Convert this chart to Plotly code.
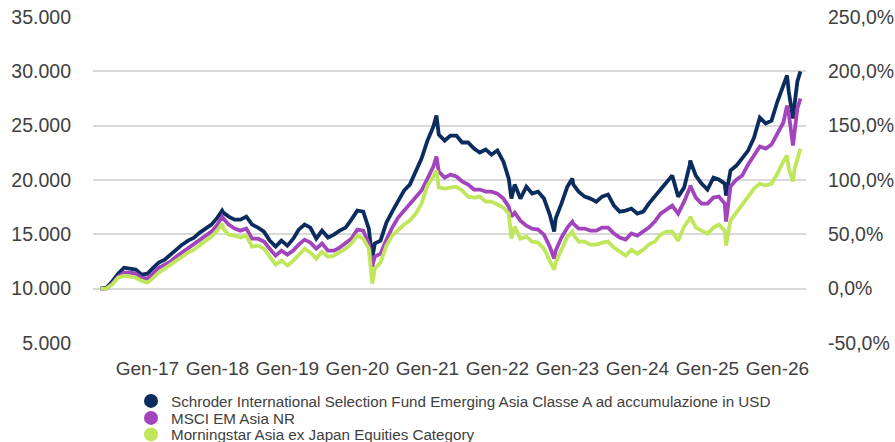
import pandas as pd
import plotly.graph_objects as go

# ---------------- data ----------------
series_names = [
    "Schroder International Selection Fund Emerging Asia Classe A ad accumulazione in USD",
    "MSCI EM Asia NR",
    "Morningstar Asia ex Japan Equities Category",
]

first_month = "2016-05-01"   # monthly observations, first day of each month

fund_monthly = [
    10000, 10090, 10645, 11380, 11930, 11840, 11750, 11290, 11380, 11930,
    12400, 12670, 13130, 13680, 14050, 14420, 14700, 15160, 15530, 15890,
    16540, 17000, 16630, 16350, 16350, 16630, 15900, 15620, 15250, 14420,
    13870, 14420, 13960, 14600, 15430, 15900, 15620, 14600, 15340, 14700,
    14970, 15340, 15620, 16350, 17180, 17090, 15530, 14150, 14420, 16080,
    17090, 18100, 19030, 19580, 20870, 21970, 23630, 24920, 24180, 23630,
    24090, 24090, 23450, 23450, 22890, 22530, 22800, 22340, 22710, 21700,
    20130, 19580, 18290, 19390, 18750, 18930, 18290, 16820, 16450, 17830,
    19390, 19580, 18930, 18470, 18290, 18010, 18470, 18660, 17640, 17090,
    17180, 17370, 16910, 17090, 17830, 18470, 19030, 19760, 20410, 18470,
    19300, 21420, 20410, 19670, 19120, 20220, 20040, 19670, 20870, 21330,
    21970, 22710, 23910, 25750, 25200, 25470, 27220, 28790, 28140, 27040,
    30000,
]

bench_monthly = [
    10000, 10000, 10460, 11100, 11470, 11470, 11380, 11010, 10920, 11470,
    11930, 12210, 12490, 12950, 13320, 13680, 14050, 14510, 14880, 15250,
    15890, 16450, 15890, 15530, 15340, 15530, 14600, 14600, 14330, 13680,
    13040, 13500, 13130, 13500, 14050, 14510, 14240, 13680, 14150, 13500,
    13500, 13780, 14150, 14600, 15430, 15340, 14150, 12950, 13220, 14510,
    15620, 16540, 17180, 17740, 18380, 19030, 20130, 21240, 20780, 20220,
    20500, 20320, 19860, 19580, 19120, 19120, 18930, 18930, 18750, 18290,
    17550, 17000, 16260, 15800, 15530, 15440, 14970, 13870, 13500, 14700,
    15620, 15990, 15530, 15530, 15340, 15340, 15620, 15620, 15070, 14700,
    14510, 15070, 14880, 15250, 15620, 16170, 16910, 17280, 17640, 16910,
    18010, 19300, 18380, 17830, 17830, 18380, 18470, 17830, 19390, 20040,
    20410, 21420, 22340, 23080, 22890, 23260, 24280, 25290, 26120, 24280,
    27500,
]

cat_monthly = [
    10000, 10000, 10370, 11010, 11200, 11100, 11010, 10740, 10550, 11010,
    11470, 11840, 12210, 12670, 13040, 13320, 13590, 14050, 14420, 14790,
    15340, 15530, 14970, 14880, 14700, 14880, 13870, 13960, 13680, 12950,
    12210, 12580, 12120, 12580, 13130, 13680, 13320, 12760, 13410, 12950,
    13040, 13320, 13680, 14150, 14880, 14610, 13680, 11840, 12400, 13960,
    14880, 15430, 15900, 16260, 16910, 17830, 19490, 20310, 19300, 19210,
    19300, 19390, 19030, 18470, 18380, 18470, 18010, 18010, 17740, 17460,
    16910, 15710, 14610, 14790, 14330, 14240, 13680, 12580, 12400, 13590,
    14790, 14970, 14330, 14330, 14050, 14050, 14240, 14330, 13780, 13410,
    13040, 13590, 13220, 13590, 14050, 14330, 14970, 15250, 15250, 14420,
    15710, 16450, 15620, 15340, 15070, 15620, 15900, 15340, 16260, 17000,
    17640, 18380, 19210, 19670, 19490, 19670, 20590, 21700, 21050, 21050,
    22890,
]

# peaks and troughs between month starts
extra_dates = ["2018-01-26", "2020-03-19", "2021-02-17", "2022-03-15", "2022-10-24",
               "2023-01-27", "2024-10-03", "2025-04-08", "2026-02-20", "2026-03-23",
               "2026-04-15"]
fund_extra = [17180, 12760, 25930, 18290, 15250, 20130, 21790, 18560, 29620, 25660, 29070]
bench_extra = [16630, 12030, 22160, 16630, 12760, 16170, 19490, 16170, 26850, 23170, 26580]
cat_extra = [15990, 10460, 20870, 14610, 11750, 15250, 16630, 13960, 22250, 19860, 21970]

x_tick_dates = ["2017-01-01", "2018-01-01", "2019-01-01", "2020-01-01", "2021-01-01",
                "2022-01-01", "2023-01-01", "2024-01-01", "2025-01-01", "2026-01-01"]
x_tick_labels = ["Gen-17", "Gen-18", "Gen-19", "Gen-20", "Gen-21",
                 "Gen-22", "Gen-23", "Gen-24", "Gen-25", "Gen-26"]

left_ticks = [5000, 10000, 15000, 20000, 25000, 30000, 35000]
left_labels = ["5.000", "10.000", "15.000", "20.000", "25.000", "30.000", "35.000"]
right_ticks = [-50, 0, 50, 100, 150, 200, 250]
right_labels = ["-50,0%", "0,0%", "50,0%", "100,0%", "150,0%", "200,0%", "250,0%"]

colors = ["#0b2c5e", "#a245bd", "#c0e65b"]

# ---------------- build table ----------------
months = pd.date_range(first_month, periods=len(fund_monthly), freq="MS")
df = pd.DataFrame({
    "date": list(months) + list(pd.to_datetime(extra_dates)),
    "fund": fund_monthly + fund_extra,
    "bench": bench_monthly + bench_extra,
    "cat": cat_monthly + cat_extra,
}).sort_values("date")

FONT = "Liberation Sans, Arial, sans-serif"
TXT = "#404040"
fig = go.Figure()

for col, name, color in zip(["fund", "bench", "cat"], series_names, colors):
    fig.add_trace(go.Scatter(
        x=df["date"], y=df[col], mode="lines", name=name,
        line=dict(color=color, width=3.8), showlegend=False, hoverinfo="skip",
    ))

# legend entries (round markers), one legend per row to control spacing
legend_ids = ["legend", "legend2", "legend3"]
for name, color, lg in zip(series_names, colors, legend_ids):
    fig.add_trace(go.Scatter(
        x=[None], y=[None], mode="markers", name=name, legend=lg,
        marker=dict(color=color, size=14, symbol="circle"), showlegend=True,
    ))

# dummy trace to activate the right axis
fig.add_trace(go.Scatter(x=[None], y=[None], yaxis="y2", showlegend=False, hoverinfo="skip"))

legend_rows_px = [401, 418, 434.5]
legend_common = dict(
    orientation="v", xref="container", x=131 / 895, xanchor="left",
    yref="container", yanchor="middle",
    font=dict(size=15.2, color=TXT, family=FONT),
    bgcolor="rgba(0,0,0,0)", borderwidth=0,
)

fig.update_layout(
    width=895, height=442,
    margin=dict(l=93, r=89, t=17, b=99, autoexpand=False),
    paper_bgcolor="white", plot_bgcolor="white",
    font=dict(family=FONT, color=TXT),
    hovermode=False,
    xaxis=dict(
        type="date", range=["2016-03-23", "2026-05-30"],
        tickvals=x_tick_dates, ticktext=x_tick_labels,
        showgrid=False, zeroline=False, showline=False, ticks="",
        tickfont=dict(size=19, color=TXT), ticklabelstandoff=12, automargin=False,
    ),
    yaxis=dict(
        range=[5000, 35000], tickvals=left_ticks, ticktext=left_labels,
        showgrid=True, gridcolor="#d9d9d9", gridwidth=1.5,
        zeroline=False, showline=False, ticks="",
        tickfont=dict(size=19.5, color=TXT), ticklabelstandoff=21, automargin=False,
    ),
    yaxis2=dict(
        overlaying="y", side="right", range=[-50, 250],
        tickvals=right_ticks, ticktext=right_labels,
        showgrid=False, zeroline=False, showline=False, ticks="",
        tickfont=dict(size=19.5, color=TXT), ticklabelstandoff=21, automargin=False,
    ),
    legend=dict(legend_common, y=1 - legend_rows_px[0] / 442),
    legend2=dict(legend_common, y=1 - legend_rows_px[1] / 442),
    legend3=dict(legend_common, y=1 - legend_rows_px[2] / 442),
)

# remove the page's default body margin so the figure sits at the window origin
fig.write_html(
    "out.html",
    config={"displayModeBar": False},
    post_script="document.body.style.margin='0';",
)
